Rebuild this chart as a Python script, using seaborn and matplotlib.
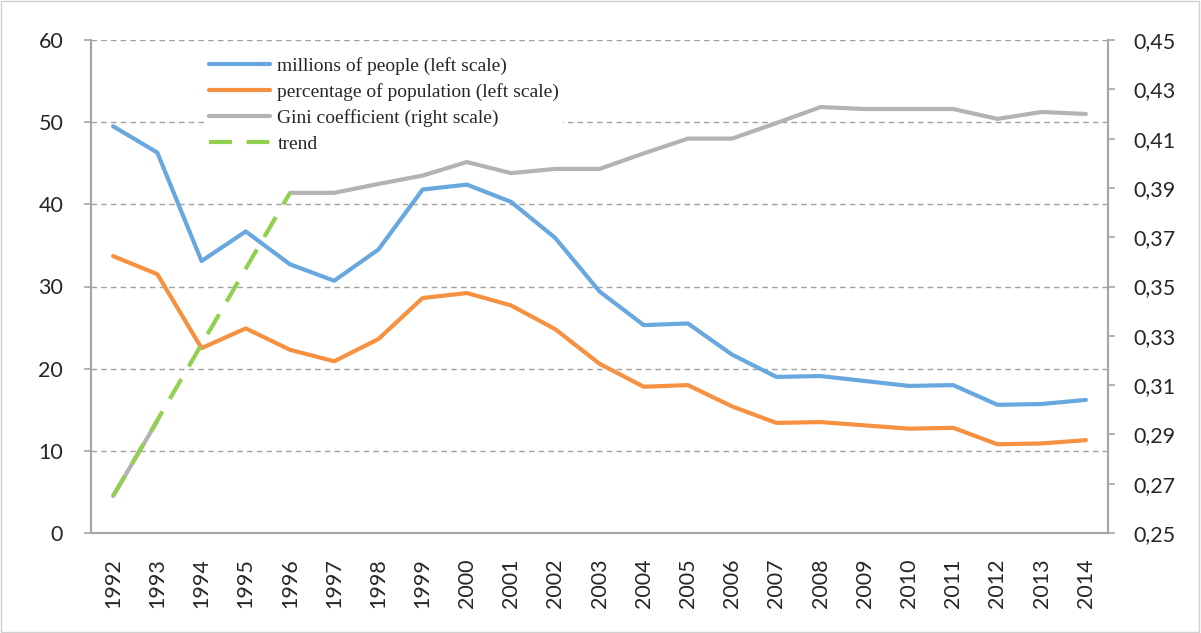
import numpy as np
import pandas as pd
import matplotlib
matplotlib.use("Agg")
import matplotlib.pyplot as plt
from matplotlib.ticker import FixedLocator, FuncFormatter
from matplotlib.patches import Rectangle
import seaborn as sns

years = list(range(1992, 2015))
millions = [49.5, 46.3, 33.1, 36.7, 32.7, 30.7, 34.5, 41.8, 42.4, 40.3, 35.9, 29.4,
            25.3, 25.5, 21.7, 19.0, 19.1, 18.5, 17.9, 18.0, 15.6, 15.7, 16.2]
percentage = [33.7, 31.5, 22.5, 24.9, 22.3, 20.9, 23.6, 28.6, 29.2, 27.7, 24.8, 20.6,
              17.8, 18.0, 15.4, 13.4, 13.5, 13.1, 12.7, 12.8, 10.8, 10.9, 11.3]
# Gini: no values for 1994-1995 (only the trend line there)
gini = [0.265, 0.2955, np.nan, np.nan, 0.388, 0.388, 0.3916, 0.395, 0.4005, 0.396, 0.3977,
        0.3977, 0.404, 0.410, 0.410, 0.4163, 0.4228, 0.422, 0.422, 0.422, 0.418, 0.4208, 0.420]
trend_years = [1992, 1996]
trend_vals = [0.265, 0.388]

left_ticks = [0, 10, 20, 30, 40, 50, 60]
right_ticks = [0.25, 0.27, 0.29, 0.31, 0.33, 0.35, 0.37, 0.39, 0.41, 0.43, 0.45]

df = pd.DataFrame({"year": years, "millions": millions, "percentage": percentage, "gini": gini})
gdf = df.dropna(subset=["gini"]).copy()
gdf["segment"] = (gdf["year"].diff() > 1).cumsum()
trend = pd.DataFrame({"year": trend_years, "gini": trend_vals})

sns.set_style("white")
plt.rcParams["font.family"] = ["Lato", "DejaVu Sans"]

BLUE = "#68A8DE"
ORANGE = "#F59140"
GREY = "#B3B3B3"
GREEN = "#92D050"
AXC = "#A6A6A6"

fig = plt.figure(figsize=(12.01, 6.33), dpi=100)
ax = fig.add_axes([91 / 1201, 1 - 533 / 633, (1108 - 91) / 1201, (533 - 40) / 633])
ax2 = ax.twinx()

lw = 3.0
sns.lineplot(data=df, x="year", y="millions", ax=ax, color=BLUE, lw=lw, label="millions of people (left scale)", legend=False)
sns.lineplot(data=df, x="year", y="percentage", ax=ax, color=ORANGE, lw=lw, label="percentage of population (left scale)", legend=False)
sns.lineplot(data=gdf, x="year", y="gini", units="segment", estimator=None, ax=ax2, color=GREY, lw=lw, legend=False)
sns.lineplot(data=trend, x="year", y="gini", ax=ax2, color=GREEN, lw=lw, legend=False)
trend_line = ax2.lines[-1]
trend_line.set_dashes([5.5, 3.5])

ax.set_xlim(1991.5, 2014.5)
ax.set_ylim(0, 60)
ax2.set_ylim(0.25, 0.45)
ax.set_xticks(years)
ax.set_xticklabels([str(y) for y in years], rotation=90)
ax.xaxis.set_minor_locator(FixedLocator(np.arange(1991.5, 2015, 1)))
ax.tick_params(axis="x", which="major", length=0, pad=18, labelsize=15.5)
ax.tick_params(axis="x", which="minor", length=5, color=AXC, width=1.2)
ax.set_yticks(left_ticks)
ax.tick_params(axis="y", length=5, color=AXC, width=1.2, labelsize=15.5, pad=15)
ax2.set_yticks(right_ticks)
ax2.yaxis.set_major_formatter(FuncFormatter(lambda v, p: f"{v:.2f}".replace(".", ",")))
ax2.tick_params(axis="y", length=5, color=AXC, width=1.2, labelsize=15.5, pad=13)
ax.set_xlabel("")
ax.set_ylabel("")
ax2.set_ylabel("")

for a in (ax, ax2):
    for s in a.spines.values():
        s.set_color(AXC)
        s.set_linewidth(1.5)
    a.spines["top"].set_visible(False)

ax.yaxis.grid(True, linestyle=(0, (4, 3)), color="#A0A0A0", lw=1.0)
ax.set_axisbelow(True)

h1, l1 = ax.get_legend_handles_labels()
gini_handle = plt.Line2D([], [], color=GREY, lw=lw)
handles = h1 + [gini_handle, trend_line]
labels = l1 + ["Gini coefficient (right scale)", "trend"]
leg = ax2.legend(handles, labels, loc="upper left", bbox_to_anchor=(0.103, 0.993),
                 frameon=True, fancybox=False, edgecolor="none", facecolor="white", framealpha=1,
                 handlelength=3.1, handletextpad=0.4, labelspacing=0.42, borderpad=0.2,
                 prop={"family": "Liberation Serif", "size": 14})

fig.patches.append(Rectangle((0.001, 0.002), 0.997, 0.996, transform=fig.transFigure,
                             fill=False, edgecolor="#D0D0D0", lw=1.0))

fig.savefig("out.png", dpi=100)
